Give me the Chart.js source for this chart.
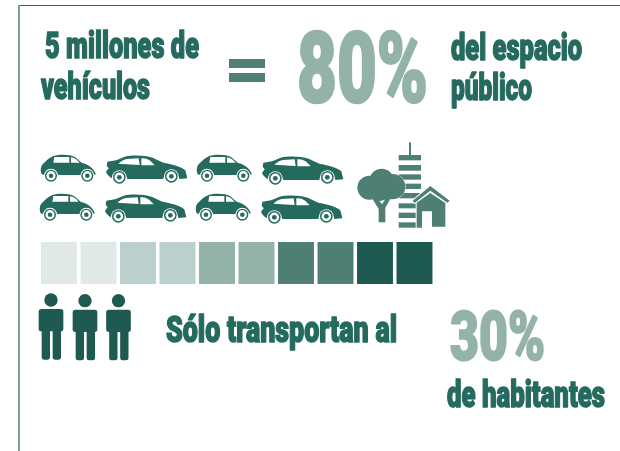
<!DOCTYPE html>
<html lang="es"><head><meta charset="utf-8">
<style>html,body{margin:0;padding:0;background:#fff}canvas{display:block}</style>
<script src="https://cdn.jsdelivr.net/npm/chart.js@4/dist/chart.umd.min.js"></script>
</head><body><canvas id="c" width="620" height="451"></canvas>
<script>
const categories = ['10%','20%','30%','40%','50%','60%','70%','80%','90%','100%'];
const segmentValues = [1,1,1,1,1,1,1,1,1,1];
const segmentColors = ['#e0e9e7','#e0e9e7','#bbcfcc','#bbcfcc','#93b2aa','#93b2aa','#4e7f74','#4e7f74','#1f5a52','#1f5a52'];
const DARK='#256a5e', DEEP='#1f5a52', MID='#4e7f74', SOFT='#93b2aa';
const FONT='Roboto';

// [text, left, right, baseline, size, colour, stroke]
const texts = [
 ['5 millones de',45,199,58,36,DARK,1.5],
 ['vehículos',41,150,98.5,36,DARK,1.5],
 ['80%',297,428,102,98,SOFT,2.5],
 ['del espacio',451,582,59.5,36,DARK,1.5],
 ['público',451,532,99.5,36,DARK,1.5],
 ['Sólo transportan al',166,397,342,36,DARK,1.5],
 ['30%',450,545,360,68,SOFT,2],
 ['de habitantes',447,605,406.5,36,DARK,1.5]
];
const smallCar = new Path2D('M35 118C30 105 32 92 42 84C50 76 58 68 70 63C90 57 120 58 135 66L156 84C172 88 190 97 198 118L190 119C186 96 158 96 152 120H84C78 96 48 96 43 120Z');
const smallWin = new Path2D('M73 66H118V83H70ZM123 67C133 68 138 72 149 83H123Z');
const sedan = new Path2D('M232 80L258 76C272 70 284 63 300 62C325 60 350 62 368 68L400 83C425 88 450 92 466 106L472 130L448 132C444 102 404 102 400 132H292C286 106 250 106 245 130C238 124 230 118 228 110L236 100L230 92Z');
const sedanWin = new Path2D('M265 86C272 80 280 74 290 72L326 70L329 90ZM334 70C350 70 358 72 374 91L334 91Z');
const tree = new Path2D();
tree.arc(425,138,37,0,7);tree.closePath();
tree.arc(388,158,36,0,7);tree.closePath();
tree.arc(458,155,38,0,7);tree.closePath();
tree.arc(420,168,30,0,7);tree.closePath();
tree.addPath(new Path2D('M416 262V222L396 190L408 186L426 208L440 186L452 190L436 218V262Z'));
const house = new Path2D('M518 197L571 153L629 197L622 203L571 167L524 204ZM530 203L571 174L616 204V275H576V229H546V278H530Z');
const bldBands = [[476,543,60,76],[476,543,90,107],[476,543,118,134],[476,543,146,162],[476,543,174,190],[476,530,205,220],[476,530,233,249],[476,543,262,278]];

function wheel(ctx,x,y,r){
  ctx.fillStyle='#fff';ctx.beginPath();ctx.arc(x,y,r+2.5,0,7);ctx.fill();
  ctx.fillStyle=DARK;ctx.beginPath();ctx.arc(x,y,r,0,7);ctx.fill();
  ctx.fillStyle='#fff';ctx.beginPath();ctx.arc(x,y,r*.76,0,7);ctx.fill();
  ctx.fillStyle=DARK;ctx.beginPath();ctx.arc(x,y,r*.38,0,7);ctx.fill();
}
function drawCar(ctx,kind,dx,dy){
  ctx.save();ctx.translate(dx,dy);ctx.scale(1/3,1/3);
  ctx.fillStyle=DARK;
  if(kind==='s'){ctx.fill(smallCar);ctx.fillStyle='#fff';ctx.fill(smallWin);wheel(ctx,63,122,18);wheel(ctx,172,122,18);}
  else{ctx.fill(sedan);ctx.fillStyle='#fff';ctx.fill(sedanWin);wheel(ctx,268,127,19);wheel(ctx,424,124,19);}
  ctx.restore();
}
function drawPerson(ctx,dx,dy){
  ctx.save();ctx.translate(dx,dy);ctx.scale(1/3,1/3);ctx.fillStyle=DEEP;
  ctx.beginPath();ctx.arc(153,45,20,0,7);ctx.fill();
  ctx.beginPath();ctx.roundRect(116,72,74,67,8);ctx.fill();
  ctx.beginPath();ctx.roundRect(125,120,25,104,7);ctx.fill();
  ctx.beginPath();ctx.roundRect(158,120,25,104,7);ctx.fill();
  ctx.restore();
}
const artwork = {
  id:'artwork',
  afterDraw(chart){
    const ctx=chart.ctx;
    ctx.save();
    ctx.fillStyle='#2f6b62';ctx.fillRect(19,5,601,1);
    ctx.fillStyle='#7fa09a';ctx.fillRect(18,5,2,446);
    ctx.fillStyle=MID;ctx.fillRect(229,59,36,9);ctx.fillRect(229,73,36,9);
    const cx=30,cy=135;
    [['s',0,0],['l',0,0],['s',156,0],['l',156,1],['s',-1,39],['l',-1,39],['s',155,39],['l',155,40]].forEach(c=>drawCar(ctx,c[0],cx+c[1],cy+c[2]));
    ctx.save();ctx.translate(240,135);ctx.scale(1/3,1/3);ctx.fillStyle=MID;
    ctx.fillRect(507,22,6,38);
    bldBands.forEach(b=>ctx.fillRect(b[0],b[2],b[1]-b[0],b[3]-b[2]));
    ctx.strokeStyle='#fff';ctx.lineJoin='round';
    ctx.lineWidth=3;ctx.stroke(tree);ctx.fill(tree);
    ctx.lineWidth=6;ctx.stroke(house);ctx.fill(house);
    ctx.restore();
    [0,34,67.5].forEach((d,i)=>drawPerson(ctx,d,285+(i?0.7:0)));
    ctx.textBaseline='alphabetic';ctx.textAlign='left';ctx.lineJoin='round';
    texts.forEach(([t,l,r,b,s,col,sw])=>{
      ctx.save();
      ctx.font=`900 ${s}px ${FONT}`;
      const w=ctx.measureText(t).width;
      ctx.translate(l,b);ctx.scale((r-l)/w,1);
      ctx.fillStyle=col;ctx.strokeStyle=col;ctx.lineWidth=sw;
      ctx.strokeText(t,0,0);ctx.fillText(t,0,0);
      ctx.restore();
    });
    ctx.restore();
  }
};
new Chart(document.getElementById('c'),{
  type:'bar',
  data:{labels:categories,datasets:[{data:segmentValues,backgroundColor:segmentColors,borderWidth:0,barPercentage:0.91,categoryPercentage:1}]},
  options:{
    responsive:false,animation:false,
    layout:{padding:{left:39.25,right:185.75,top:242,bottom:167}},
    plugins:{legend:{display:false},tooltip:{enabled:false},title:{display:false}},
    scales:{x:{display:false},y:{display:false,min:0,max:1}}
  },
  plugins:[artwork]
});
</script></body></html>
